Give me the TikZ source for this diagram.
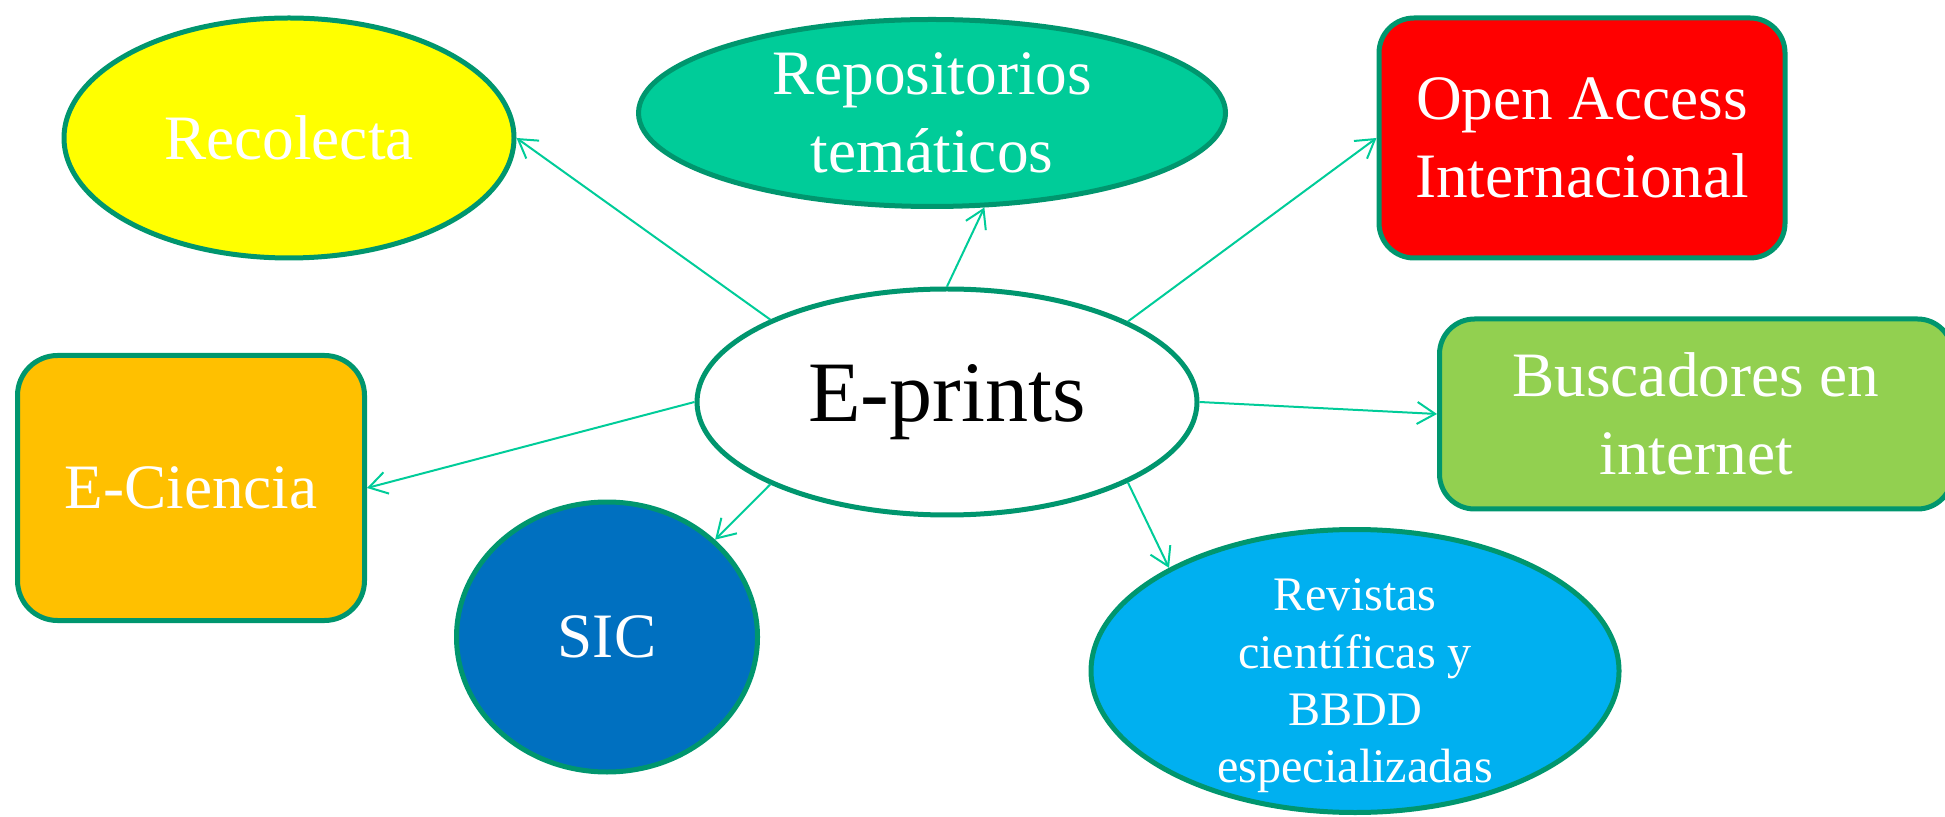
\documentclass[tikz,border=0pt]{standalone}
\usepackage{fontspec}
\setmainfont{Liberation Serif}
\usetikzlibrary{shapes.geometric,arrows.meta}
\definecolor{borde}{RGB}{0,150,110}
\definecolor{flecha}{RGB}{0,204,153}
\definecolor{turquesa}{RGB}{0,204,153}
\definecolor{amarillo}{RGB}{255,255,0}
\definecolor{rojo}{RGB}{255,0,0}
\definecolor{verdeclaro}{RGB}{146,208,80}
\definecolor{naranja}{RGB}{255,192,0}
\definecolor{azul}{RGB}{0,112,192}
\definecolor{celeste}{RGB}{0,176,240}
\begin{document}
\begin{tikzpicture}[x=.1mm, y=-.1mm, >={Straight Barb[length=1.8mm,width=2.2mm]},
    burbuja/.style={ellipse, draw=borde, line width=.5mm, inner sep=0pt, text=white, align=center, font=\fontsize{18}{22}\selectfont},
    caja/.style={rectangle, rounded corners=3.5mm, draw=borde, line width=.5mm, inner sep=0pt, text=white, align=center, font=\fontsize{18}{22}\selectfont},
    enlace/.style={->, draw=flecha, line width=.2mm}]
\useasboundingbox(0,0)rectangle(1945,817);

\node[burbuja, fill=white, text=black, minimum width=50mm, minimum height=22.6mm, font=\fontsize{24.5}{29}\selectfont](ep)at(947,402){E-prints};

\node[burbuja, fill=amarillo, minimum width=45mm, minimum height=24mm](rec)at(289,138){Recolecta};
\node[burbuja, fill=turquesa, minimum width=58.7mm, minimum height=18.7mm](repo)at(932,113){Repositorios\\tem\'aticos};
\node[caja, fill=rojo, minimum width=40.6mm, minimum height=24mm](oa)at(1582,138){Open Access\\Internacional};
\node[caja, fill=verdeclaro, minimum width=51.3mm, minimum height=19mm](busc)at(1696,414){Buscadores en\\internet};
\node[caja, fill=naranja, rounded corners=4mm, minimum width=34.7mm, minimum height=26.5mm](ec)at(191,488){E-Ciencia};
\node[burbuja, fill=azul, minimum width=30.1mm, minimum height=27mm](sic)at(607,637){SIC};
\node[burbuja, fill=celeste, minimum width=52.8mm, minimum height=28.3mm](rev)at(1355,671){};
\node[text=white, align=center, inner sep=0pt, font=\fontsize{13.7}{16.3}\selectfont](revtxt)at(1355,686){Revistas\\cient\'ificas y\\BBDD\\especializadas};

\draw[enlace](ep.155.5)--(rec.east);
\draw[enlace](ep.90)--(repo.-61.2);
\draw[enlace](ep.24.5)--(oa.west);
\draw[enlace](ep.east)--(busc.west);
\draw[enlace](ep.-24.5)--(rev.151.6);
\draw[enlace](ep.-155.5)--(sic.42.5);
\draw[enlace](ep.west)--(ec.east);
\end{tikzpicture}
\end{document}
